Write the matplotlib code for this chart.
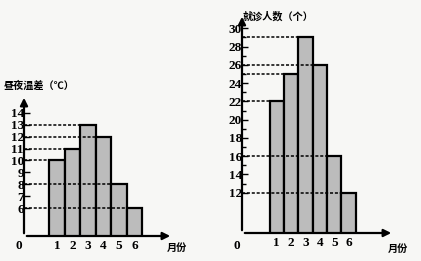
import numpy as np
import matplotlib
matplotlib.use('Agg')
import matplotlib.pyplot as plt

plt.rcParams['font.family'] = ['Noto Sans CJK SC', 'DejaVu Sans']

months = [1, 2, 3, 4, 5, 6]
temp_diff = [10, 11, 13, 12, 8, 6]
patients = [22, 25, 29, 26, 16, 12]
temp_ticks = list(range(6, 15))
pat_ticks = list(range(12, 31, 2))
pat_minor = list(range(13, 30, 2))

W, H = 421, 261
fig = plt.figure(figsize=(W / 100, H / 100), dpi=100)
fig.patch.set_facecolor('#f7f7f5')

num_font = dict(family='Liberation Serif', fontweight='bold', fontsize=9.5)


def panel(px_left, px_right, px_bottom, px_top, xlim, ylim, vals, yticks, ylabel, ylab_xy, minor=None):
    ax = fig.add_axes([px_left / W, 1 - px_bottom / H, (px_right - px_left) / W, (px_bottom - px_top) / H])
    ax.set_facecolor('none')
    ax.set_xlim(*xlim)
    ax.set_ylim(*ylim)
    for s in ax.spines.values():
        s.set_visible(False)
    ax.bar(months, vals, width=1, color='#bcbcbc', edgecolor='black', linewidth=1.6, zorder=2)
    # dotted guide lines from y axis to bar edge
    for m, v in zip(months, vals):
        ax.hlines(v, xlim[0], m - 0.5, colors='black', linestyles=(0, (2, 1.2)), linewidth=1.1, zorder=3)
    # axes with arrows
    ax.annotate('', xy=(1, 0), xytext=(0, 0), xycoords='axes fraction',
                arrowprops=dict(arrowstyle='-|>', color='black', lw=1.6, mutation_scale=11), annotation_clip=False)
    ax.annotate('', xy=(0, 1), xytext=(0, 0), xycoords='axes fraction',
                arrowprops=dict(arrowstyle='-|>', color='black', lw=1.6, mutation_scale=11), annotation_clip=False)
    ax.set_yticks(yticks)
    ax.set_yticklabels([str(t) for t in yticks], **num_font)
    if minor:
        ax.set_yticks(minor, minor=True)
        ax.tick_params(axis='y', which='minor', direction='in', length=3, width=1)
    ax.tick_params(axis='y', which='major', direction='in', length=4, width=1, pad=0)
    ax.set_xticks(months)
    ax.set_xticklabels([str(m) for m in months], **num_font)
    ax.tick_params(axis='x', length=0, pad=3)
    ax.text(-0.01, -0.03, '0', transform=ax.transAxes, ha='right', va='top', **num_font)
    ax.text(0.96, -0.05, '月份', transform=ax.transAxes, ha='left', va='top',
            fontsize=7.3, fontweight='bold')
    fig.text(ylab_xy[0] / W, 1 - ylab_xy[1] / H, ylabel, ha='left', va='center',
             fontsize=7.3, fontweight='bold')
    return ax


panel(24, 173, 236, 95, (-1.14, 8.5), (3.68, 15.48), temp_diff, temp_ticks,
      '昼夜温差（℃）', (4, 86))
panel(242, 394, 233, 14, (-1.42, 9.16), (7.59, 31.57), patients, pat_ticks,
      '就诊人数（个）', (243, 16), minor=pat_minor)

fig.savefig('out.png', dpi=100, facecolor=fig.get_facecolor())
